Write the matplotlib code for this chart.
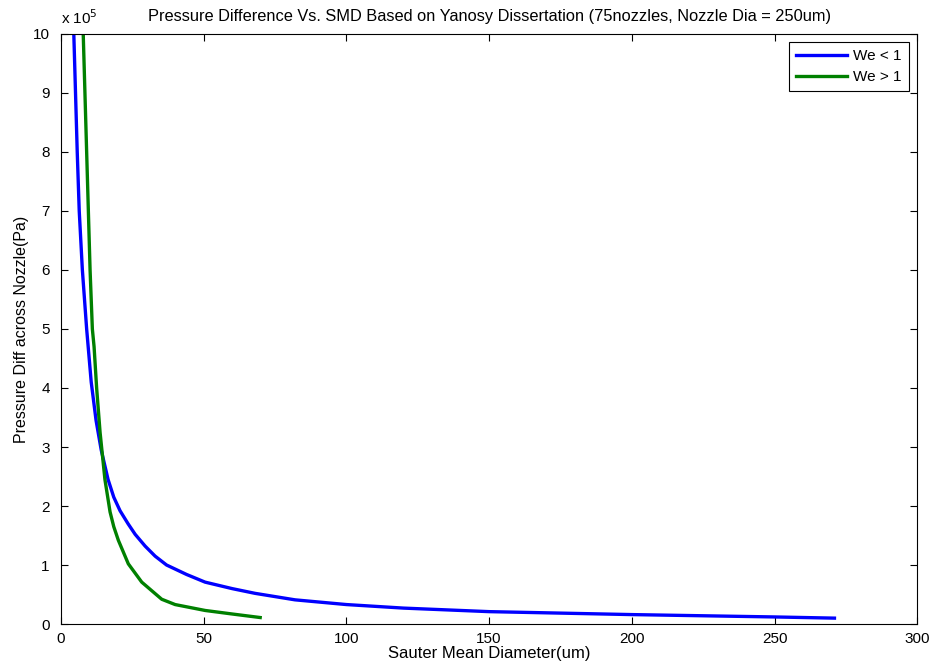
import matplotlib
matplotlib.use("Agg")
import matplotlib.pyplot as plt
from matplotlib.ticker import FuncFormatter, MultipleLocator

plt.rcParams['font.family'] = ['Liberation Sans', 'DejaVu Sans']

# Sauter mean diameter (um) and pressure difference (Pa)
smd_we_lt1 = [4.5, 5.1, 5.7, 6.4, 7.5, 9.0, 10.6, 12.3, 14.1, 16.5, 18.5, 20.7, 23.5, 26.0, 29.5,
              33.0, 37.0, 44.0, 50.5, 60.0, 68.0, 82.0, 100.0, 120.0, 150.0, 200.0, 250.0, 271.0]
dp_we_lt1 = [10.0e5, 9.0e5, 8.0e5, 7.0e5, 6.0e5, 5.0e5, 4.1e5, 3.45e5, 2.95e5, 2.45e5, 2.15e5, 1.92e5,
             1.7e5, 1.52e5, 1.32e5, 1.15e5, 1.0e5, 0.84e5, 0.71e5, 0.6e5, 0.52e5, 0.41e5, 0.33e5,
             0.27e5, 0.21e5, 0.16e5, 0.12e5, 0.10e5]

smd_we_gt1 = [7.8, 8.4, 9.0, 9.6, 10.2, 11.0, 11.6, 12.5, 13.7, 15.4, 17.2, 18.5, 20.1, 23.6, 28.3,
              35.3, 40.0, 50.5, 60.0, 69.8]
dp_we_gt1 = [10.0e5, 9.0e5, 8.0e5, 7.0e5, 6.0e5, 5.0e5, 4.7e5, 4.0e5, 3.25e5, 2.45e5, 1.9e5, 1.65e5,
             1.42e5, 1.02e5, 0.71e5, 0.42e5, 0.33e5, 0.23e5, 0.17e5, 0.11e5]

fig = plt.figure(figsize=(9.35, 6.71), dpi=100)
ax = fig.add_axes([0.0652, 0.0700, 0.9158, 0.8794])

ax.plot(smd_we_lt1, dp_we_lt1, color=(0, 0, 1), lw=2.4, label='We < 1')
ax.plot(smd_we_gt1, dp_we_gt1, color=(0, 0.5, 0), lw=2.4, label='We > 1')

ax.set_xlim(0, 300)
ax.set_ylim(0, 10e5)
ax.xaxis.set_major_locator(MultipleLocator(50))
ax.yaxis.set_major_locator(MultipleLocator(1e5))
ax.yaxis.set_major_formatter(FuncFormatter(lambda v, p: f"{v/1e5:g}"))
ax.tick_params(direction='in', top=True, right=True, labelsize=11, length=5, width=0.8)
ax.tick_params(axis='y', pad=8)
ax.tick_params(axis='x', pad=6)
for s in ax.spines.values():
    s.set_linewidth(0.8)

ax.set_title('Pressure Difference Vs. SMD Based on Yanosy Dissertation (75nozzles, Nozzle Dia = 250um)',
             fontsize=11.8, pad=9)
ax.set_xlabel('Sauter Mean Diameter(um)', fontsize=12, labelpad=0)
ax.set_ylabel('Pressure Diff across Nozzle(Pa)', fontsize=11.5, labelpad=3)
ax.text(0.0, 1.012, r'x 10$^{5}$', transform=ax.transAxes, fontsize=11, ha='left', va='bottom')

leg = ax.legend(loc='upper right', fontsize=11, fancybox=False, framealpha=1,
                edgecolor='black', borderaxespad=0.55, handlelength=3.3, handletextpad=0.45,
                borderpad=0.45, labelspacing=0.45)
leg.get_frame().set_linewidth(0.8)

fig.savefig('out.png', dpi=100)
